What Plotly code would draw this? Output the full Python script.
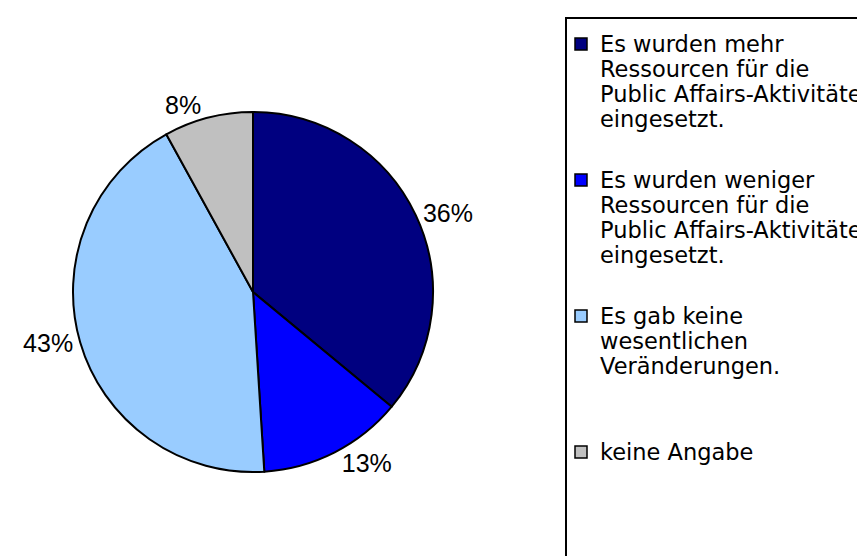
import plotly.graph_objects as go

labels = [
    "Es wurden mehr<br>Ressourcen für die<br>Public Affairs-Aktivitäten<br>eingesetzt.",
    "Es wurden weniger<br>Ressourcen für die<br>Public Affairs-Aktivitäten<br>eingesetzt.",
    "Es gab keine<br>wesentlichen<br>Veränderungen.",
    "keine Angabe",
]
values = [36, 13, 43, 8]
colors = ["#000080", "#0000FF", "#99CCFF", "#C0C0C0"]

W, H = 865, 556
cx, cy, r = 245, 284, 180
FONT = "Liberation Sans, Arial, sans-serif"
LEGEND_FONT = "DejaVu Sans, Liberation Sans, sans-serif"

fig = go.Figure(go.Pie(
    labels=labels,
    values=values,
    sort=False,
    direction="clockwise",
    rotation=0,
    marker=dict(colors=colors, line=dict(color="black", width=2)),
    textposition="outside",
    texttemplate="%{value}%",
    textfont=dict(family=FONT, size=25, color="black"),
    domain=dict(x=[(cx - r) / W, (cx + r) / W], y=[(H - cy - r) / H, (H - cy + r) / H]),
    automargin=False,
    showlegend=False,
))

# Legend box (extends past the right and bottom edges like the reference)
shapes = [dict(
    type="rect", xref="paper", yref="paper",
    x0=558 / W, x1=1.1, y0=-0.1, y1=1 - 10 / H,
    line=dict(color="black", width=2),
    fillcolor="rgba(0,0,0,0)",
    layer="below",
)]
annotations = []

entry_top, entry_pitch, line_pitch = 36, 136, 25
sw_x0, sw_size, text_x = 567, 12, 590
for i, (lab, col) in enumerate(zip(labels, colors)):
    y0 = entry_top + i * entry_pitch
    shapes.append(dict(
        type="rect", xref="paper", yref="paper",
        x0=sw_x0 / W, x1=(sw_x0 + sw_size) / W,
        y0=1 - (y0 + sw_size / 2) / H, y1=1 - (y0 - sw_size / 2) / H,
        line=dict(color="black", width=1.5),
        fillcolor=col,
    ))
    for j, line in enumerate(lab.split("<br>")):
        annotations.append(dict(
            xref="paper", yref="paper",
            x=text_x / W, y=1 - (y0 + j * line_pitch) / H,
            xanchor="left", yanchor="middle",
            text=line, showarrow=False,
            font=dict(family=LEGEND_FONT, size=22.5, color="black"),
        ))

fig.update_layout(
    width=W, height=H,
    margin=dict(l=0, r=0, t=0, b=0),
    paper_bgcolor="white",
    plot_bgcolor="white",
    font=dict(family=FONT, size=25, color="black"),
    shapes=shapes,
    annotations=annotations,
)

fig.write_html("out.html")
